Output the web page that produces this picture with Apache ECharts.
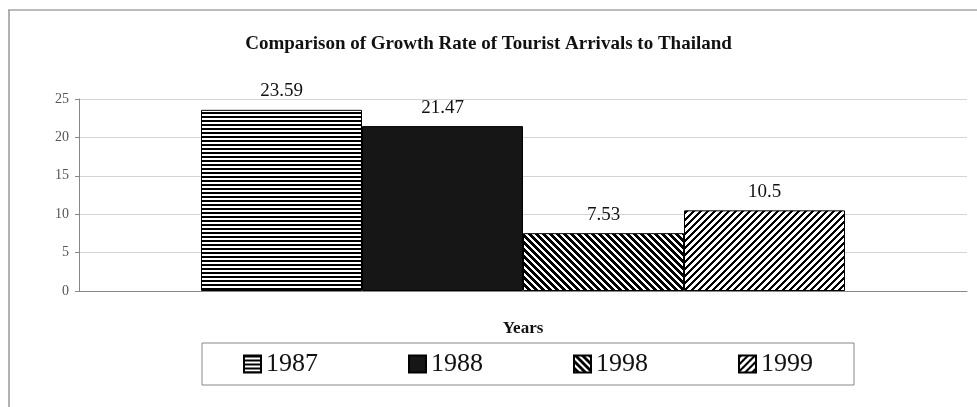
<!DOCTYPE html>
<html>
<head>
<meta charset="utf-8">
<script src="https://cdn.jsdelivr.net/npm/echarts@6/dist/echarts.min.js"></script>
<style>
  html, body { margin: 0; padding: 0; background: #fff; }
  #chart { width: 977px; height: 407px; }
</style>
</head>
<body>
<div id="chart"></div>
<script>
var categories = [''];
var years = ['1987', '1988', '1998', '1999'];
var growth = [23.59, 21.47, 7.53, 10.5];
var yTicks = [0, 5, 10, 15, 20, 25];

var serif = '"Liberation Serif", "Times New Roman", serif';

// hatch fills drawn on small canvases
function hatch(kind) {
  var size = kind === 'h' ? 4 : 7;
  var c = document.createElement('canvas');
  c.width = size; c.height = size;
  var ctx = c.getContext('2d');
  ctx.fillStyle = '#fff';
  ctx.fillRect(0, 0, size, size);
  ctx.fillStyle = '#000';
  for (var y = 0; y < size; y++) {
    for (var x = 0; x < size; x++) {
      var on;
      if (kind === 'h') on = y < 2;
      else if (kind === 'back') on = ((x - y) % size + size) % size < 4;
      else on = (x + y) % size < 3;
      if (on) ctx.fillRect(x, y, 1, 1);
    }
  }
  return { image: c, repeat: 'repeat' };
}

var fills = [hatch('h'), '#161616', hatch('back'), hatch('fwd')];

var series = years.map(function (name, i) {
  return {
    name: name,
    type: 'bar',
    barWidth: 161,
    barGap: '0%',
    data: [growth[i]],
    itemStyle: { color: fills[i], borderColor: '#000', borderWidth: 1 },
    label: {
      show: true,
      position: 'top',
      distance: 9,
      fontFamily: serif,
      fontSize: 19,
      color: '#111'
    }
  };
});

var option = {
  animation: false,
  backgroundColor: '#fff',
  title: {
    text: 'Comparison of Growth Rate of Tourist Arrivals to Thailand',
    left: 'center',
    top: 30,
    textStyle: { fontFamily: serif, fontWeight: 'bold', fontSize: 19, color: '#111' }
  },
  legend: {
    data: years,
    left: 202,
    top: 343,
    padding: [8, 41],
    itemGap: 90,
    itemWidth: 17,
    itemHeight: 17,
    borderColor: '#888',
    borderWidth: 1,
    icon: 'rect',
    textStyle: { fontFamily: serif, fontSize: 26, color: '#111' }
  },
  grid: { left: 79, right: 10, top: 99, bottom: 116 },
  xAxis: {
    type: 'category',
    data: categories,
    name: 'Years',
    nameLocation: 'middle',
    nameGap: 29,
    nameTextStyle: { fontFamily: serif, fontWeight: 'bold', fontSize: 17, color: '#111' },
    axisLine: { lineStyle: { color: '#888' } },
    axisTick: { show: false },
    axisLabel: { show: false }
  },
  yAxis: {
    type: 'value',
    min: yTicks[0],
    max: yTicks[yTicks.length - 1],
    interval: 5,
    axisLine: { show: true, lineStyle: { color: '#888' } },
    axisTick: { show: true, length: 4, lineStyle: { color: '#888' } },
    axisLabel: { fontFamily: serif, fontSize: 14, color: '#555', margin: 10 },
    splitLine: { lineStyle: { color: '#d4d4d4' } }
  },
  graphic: [
    { type: 'line', shape: { x1: 8, y1: 10, x2: 977, y2: 10 }, style: { stroke: '#bbb', lineWidth: 2 } },
    { type: 'line', shape: { x1: 9, y1: 10, x2: 9, y2: 407 }, style: { stroke: '#999', lineWidth: 1.5 } }
  ],
  series: series
};

var chart = echarts.init(document.getElementById('chart'));
chart.setOption(option);
</script>
</body>
</html>
